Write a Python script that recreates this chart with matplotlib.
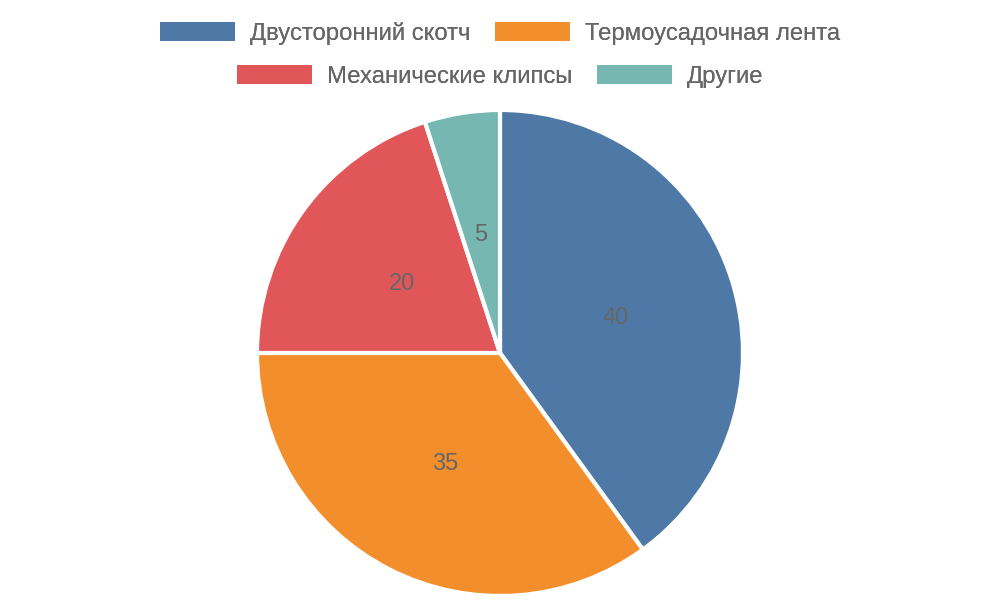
import matplotlib
matplotlib.use("Agg")
import matplotlib.pyplot as plt
from matplotlib.patches import Patch

plt.rcParams['font.family'] = ['Liberation Sans', 'DejaVu Sans']

labels = ['Двусторонний скотч', 'Термоусадочная лента', 'Механические клипсы', 'Другие']
values = [40, 35, 20, 5]
colors = ['#4e79a7', '#f28e2b', '#e15759', '#76b7b2']
text_color = '#666666'

fig = plt.figure(figsize=(10, 6), dpi=100)
# square axes holding the pie, center ~ (500, 353) px, radius ~243 px
ax = fig.add_axes([0.257, 0.0067, 0.486, 0.81])

wedges, texts = ax.pie(values, colors=colors, startangle=90, counterclock=False,
                       labels=[str(v) for v in values], labeldistance=0.5,
                       wedgeprops=dict(edgecolor='white', linewidth=3),
                       textprops=dict(color=text_color, fontsize=17))
for t in texts:
    t.set_ha('center')
    t.set_va('center_baseline')
ax.set_xlim(-1.0, 1.0)
ax.set_ylim(-1.0, 1.0)
ax.set_aspect('equal')

# legend rows, centered like the original
rows = [(0, 1, 0.944), (2, 3, 0.872)]
for a, b, y in rows:
    handles = [Patch(facecolor=colors[i], edgecolor='none') for i in (a, b)]
    leg = fig.legend(handles, [labels[a], labels[b]], loc='center',
                     bbox_to_anchor=(0.5, y), ncol=2, frameon=False,
                     fontsize=17.2, handlelength=3.15, handleheight=0.85,
                     handletextpad=0.6, columnspacing=1.05,
                     borderpad=0, borderaxespad=0)
    for t in leg.get_texts():
        t.set_color(text_color)
    fig.add_artist(leg)

fig.savefig('out.png', dpi=100)
